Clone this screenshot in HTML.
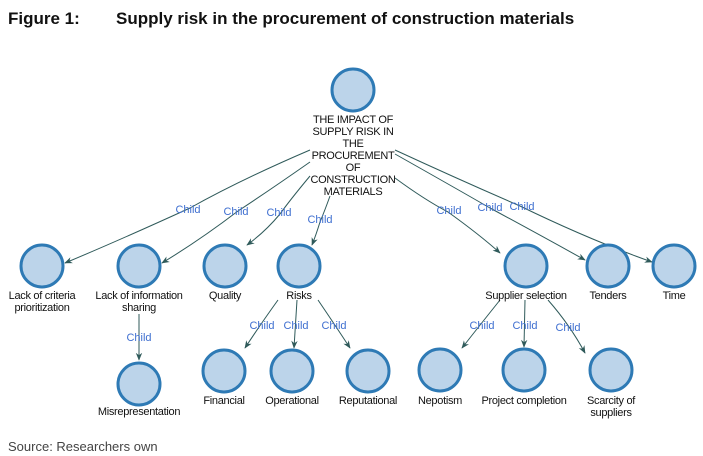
<!DOCTYPE html>
<html><head><meta charset="utf-8"><style>
body{margin:0;background:#fff;width:703px;height:456px;overflow:hidden}
svg{display:block}
.t{font-family:"Liberation Sans",Arial,sans-serif;font-size:11px;fill:#111;text-anchor:middle;letter-spacing:-0.3px}
.c{font-family:"Liberation Sans",Arial,sans-serif;font-size:11px;fill:#3f6fd0;text-anchor:middle}
circle{fill:#bcd4ea;stroke:#2e7ab5;stroke-width:3}
path{fill:none;stroke:#2f5a5a;stroke-width:1}
</style></head><body>
<svg width="703" height="456" viewBox="0 0 703 456">
<defs><marker id="a" viewBox="0 0 10 10" refX="9" refY="5" markerWidth="8" markerHeight="8" orient="auto"><path d="M0,1 L10,5 L0,9 L3,5 Z" style="fill:#2f5a5a;stroke:none"/></marker></defs>
<text x="8" y="24" style="font-family:'Liberation Sans',Arial,sans-serif;font-weight:bold;font-size:17px;fill:#111">Figure 1:</text>
<text x="116" y="24" style="font-family:'Liberation Sans',Arial,sans-serif;font-weight:bold;font-size:17px;fill:#111">Supply risk in the procurement of construction materials</text>
<text x="8" y="451" style="font-family:'Liberation Sans',Arial,sans-serif;font-size:13px;fill:#444">Source: Researchers own</text>

<!-- edges root -->
<path d="M310,150 Q240,180 190,208 Q120,240 65,263" marker-end="url(#a)"/>
<path d="M310,162 Q270,190 238,211 Q200,240 162,263" marker-end="url(#a)"/>
<path d="M310,176 Q290,200 280,214 Q265,232 247,245" marker-end="url(#a)"/>
<path d="M330,196 Q325,210 320,222 Q316,235 312,245" marker-end="url(#a)"/>
<path d="M395,178 Q425,200 448,212 Q480,235 500,253" marker-end="url(#a)"/>
<path d="M395,154 Q450,185 490,208 Q540,235 585,260" marker-end="url(#a)"/>
<path d="M395,150 Q460,180 520,206 Q590,240 652,262" marker-end="url(#a)"/>
<!-- sub edges -->
<path d="M139,314 L139,360" marker-end="url(#a)"/>
<path d="M278,300 Q260,325 245,348" marker-end="url(#a)"/>
<path d="M297,300 L294,348" marker-end="url(#a)"/>
<path d="M318,300 Q335,325 350,348" marker-end="url(#a)"/>
<path d="M500,300 Q480,325 462,348" marker-end="url(#a)"/>
<path d="M525,300 L524,347" marker-end="url(#a)"/>
<path d="M548,300 Q570,325 585,353" marker-end="url(#a)"/>

<g class="c">
<text x="188" y="213">Child</text><text x="236" y="215">Child</text><text x="279" y="216">Child</text><text x="320" y="223">Child</text>
<text x="449" y="214">Child</text><text x="490" y="211">Child</text><text x="522" y="210">Child</text>
<text x="139" y="341">Child</text><text x="262" y="329">Child</text><text x="296" y="329">Child</text><text x="334" y="329">Child</text>
<text x="482" y="329">Child</text><text x="525" y="329">Child</text><text x="568" y="331">Child</text>
</g>

<circle cx="353" cy="90" r="21"/>
<circle cx="42" cy="266" r="21"/><circle cx="139" cy="266" r="21"/><circle cx="225" cy="266" r="21"/><circle cx="299" cy="266" r="21"/>
<circle cx="526" cy="266" r="21"/><circle cx="608" cy="266" r="21"/><circle cx="674" cy="266" r="21"/>
<circle cx="139" cy="384" r="21"/><circle cx="224" cy="371" r="21"/><circle cx="292" cy="371" r="21"/><circle cx="368" cy="371" r="21"/>
<circle cx="440" cy="370" r="21"/><circle cx="524" cy="370" r="21"/><circle cx="611" cy="370" r="21"/>

<g class="t">
<text x="353" y="123">THE IMPACT OF</text><text x="353" y="135">SUPPLY RISK IN</text><text x="353" y="147">THE</text>
<text x="353" y="159">PROCUREMENT</text><text x="353" y="171">OF</text><text x="353" y="183">CONSTRUCTION</text><text x="353" y="195">MATERIALS</text>
<text x="42" y="299">Lack of criteria</text><text x="42" y="311">prioritization</text>
<text x="139" y="299">Lack of information</text><text x="139" y="311">sharing</text>
<text x="225" y="299">Quality</text><text x="299" y="299">Risks</text>
<text x="526" y="299">Supplier selection</text><text x="608" y="299">Tenders</text><text x="674" y="299">Time</text>
<text x="139" y="415">Misrepresentation</text><text x="224" y="404">Financial</text><text x="292" y="404">Operational</text><text x="368" y="404">Reputational</text>
<text x="440" y="404">Nepotism</text><text x="524" y="404">Project completion</text><text x="611" y="404">Scarcity of</text><text x="611" y="416">suppliers</text>
</g>
</svg>
</body></html>
